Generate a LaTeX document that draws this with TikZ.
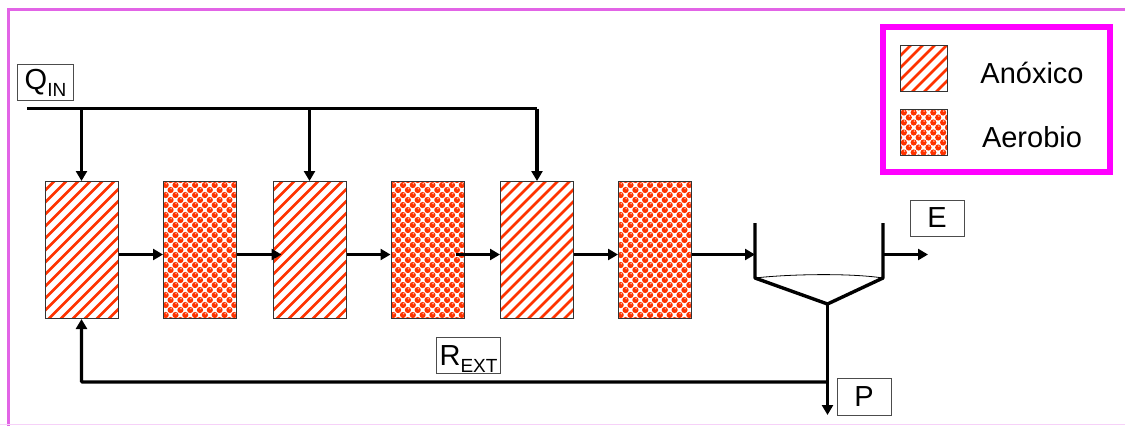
\documentclass[tikz,border=0pt]{standalone}
\usepackage{fontspec}
\setmainfont{Liberation Sans}
\usetikzlibrary{arrows.meta}
\definecolor{mix}{RGB}{255, 51, 0}
\definecolor{edge}{RGB}{255, 0, 255}
\definecolor{frame}{RGB}{226, 100, 230}
\newcommand{\lowtext}[1]{\smash{\raisebox{-7pt}{\fontsize{19}{19}\selectfont #1}}}
\tikzset{
    flow/.style = {line width = 3.4pt, -{Triangle[length = 10pt, width = 11pt]}},
    pipe/.style = {line width = 3.4pt},
    tag/.style = {draw = black!70, line width = .8pt, fill = white, inner sep = 0pt, font = \fontsize{29}{29}\selectfont},
    anox/.style = {draw = black!80, line width = 1pt, inner sep = 0pt, path picture = {
        \foreach \k in {-16,...,16}
            \draw[mix, line width = 2.8pt] ([xshift = \k*12pt]path picture bounding box.center) ++ (-100pt,-100pt) -- ++ (200pt,200pt);
    }},
    aero/.style = {draw = black!80, line width = 1pt, inner sep = 0pt, path picture = {
        \foreach \r in {-14,...,14}
            \foreach \c in {-5,...,5} {
                \fill[mix] ([xshift = {(\c + mod(abs(\r),2)/2)*9.8pt}, yshift = \r*5pt]path picture bounding box.center) circle (3.1pt);
                \fill[white!60!mix] ([xshift = {(\c + mod(abs(\r),2)/2)*9.8pt + .6pt}, yshift = \r*5pt + 1.4pt]path picture bounding box.center) circle (.9pt);
            }
    }},
    tank/.style = {minimum width = 73pt, minimum height = 137pt},
    swatch/.style = {minimum width = 47pt, minimum height = 46pt}
}
\begin{document}
\begin{tikzpicture}[x = 1pt, y = -1pt]
    \useasboundingbox (0,0) rectangle (1125,426);
    \draw[frame, line width = 2.5pt] (8.5,426) -- (8.5,9.5) -- (1125,9.5);
    \draw[frame!30, line width = .8pt] (0,424.5) -- (1125,424.5);

    % tanks
    \node[anox, tank] (t1) at (81.5,250) {};
    \node[aero, tank] (t2) at (200,250) {};
    \node[anox, tank] (t3) at (309.5,250) {};
    \node[aero, tank] (t4) at (427.5,250) {};
    \node[anox, tank] (t5) at (537,250) {};
    \node[aero, tank] (t6) at (655,250) {};

    \coordinate (axis) at (0,254.5);
    \draw[flow] (t1.east |- axis) -- (t2.west |- axis);
    \draw[flow] (t2.east |- axis) -- ([xshift = 9pt]t3.west |- axis);
    \draw[flow] (t3.east |- axis) -- (t4.west |- axis);
    \draw[flow] ([xshift = -9pt]t4.east |- axis) -- (t5.west |- axis);
    \draw[flow] (t5.east |- axis) -- (t6.west |- axis);

    % feed
    \coordinate (qstart) at (27,108.5);
    \coordinate (qend) at (537,108.5);
    \draw[pipe] (qstart) -- (qend);
    \draw[flow] (t1.north |- qstart) -- (t1.north);
    \draw[flow] (t3.north |- qstart) -- (t3.north);
    \draw[flow] (qend) -- (t5.north);
    \node[tag, minimum width = 56pt, minimum height = 36pt] (qin) at (45.5,82) {Q\lowtext{IN}};

    % settler
    \coordinate (sl) at (755,223);
    \coordinate (sr) at (883,223);
    \coordinate (bl) at (755,278);
    \coordinate (br) at (883,278);
    \coordinate (sb) at (827.5,304);
    \coordinate (sout) at (883,254.5);
    \coordinate (ejunc) at (827.5,382);
    \coordinate (pend) at (827.5,415);
    \coordinate (eend) at (928,254.5);
    \draw[pipe, line join = round] (sl) -- (bl) -- (sb) -- (br) -- (sr);
    \draw[line width = .8pt] (bl) .. controls (790,274) and (850,273) .. (br);
    \draw[flow] (t6.east |- axis) -- (sl |- axis);
    \draw[flow] (sout) -- (eend);
    \draw[flow] (sb) -- (pend);
    \draw[flow, rounded corners = 1pt] (ejunc) -- (t1.south |- ejunc) -- (t1.south);

    \node[tag, minimum width = 54pt, minimum height = 36pt] (e) at (937,218) {E};
    \node[tag, minimum width = 54pt, minimum height = 37pt] (p) at (864,397) {P};
    \node[tag, minimum width = 64pt, minimum height = 36pt] (rext) at (468.5,355.5) {R\lowtext{EXT}};

    % legend
    \node[draw = edge, line width = 6pt, minimum width = 227pt, minimum height = 145pt] (legend) at (996.5,99.5) {};
    \node[anox, swatch] (s1) at (923.5,68.5) {};
    \node[aero, swatch] (s2) at (923.5,132.5) {};
    \node[font = \fontsize{29}{29}\selectfont] (l1) at (1032,73) {Anóxico};
    \node[font = \fontsize{29}{29}\selectfont] (l2) at (1032,137) {Aerobio};
\end{tikzpicture}
\end{document}
